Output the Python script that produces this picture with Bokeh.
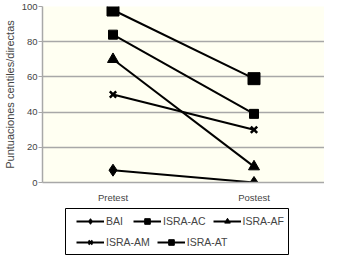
from bokeh.plotting import figure
from bokeh.layouts import column, row
from bokeh.models import FactorRange, Range1d, Legend, LegendItem, FixedTicker, Spacer
from bokeh.embed import file_html
from bokeh.resources import INLINE

categories = ["Pretest", "Postest"]
series_names = ["BAI", "ISRA-AC", "ISRA-AF", "ISRA-AM", "ISRA-AT"]
bai = [7, 0]
isra_ac = [84, 39]
isra_af = [70, 9]
isra_am = [50, 30]
isra_at = [98, 59]
y_ticks = [0, 20, 40, 60, 80, 100]

series = [bai, isra_ac, isra_af, isra_am, isra_at]
markers = ["diamond", "square", "triangle", "x", "square"]
sizes = [12, 9, 11, 9, 12]
legend_sizes = [10, 7, 9, 7, 8]

GRID = "#A8A8A8"
FONT = "Liberation Sans"

p = figure(width=324, height=206, output_backend="svg", toolbar_location=None,
           x_range=FactorRange(*categories, range_padding=0),
           y_range=Range1d(0, 100))
p.min_border_left = 0
p.min_border_right = 0
p.min_border_top = 6
p.min_border_bottom = 24
p.background_fill_color = "#FFFFF2"
p.border_fill_color = "white"
p.outline_line_color = None

p.xgrid.grid_line_color = None
p.ygrid.grid_line_color = GRID
p.ygrid.grid_line_width = 1.5

p.yaxis.ticker = FixedTicker(ticks=y_ticks)
p.yaxis.axis_line_color = GRID
p.yaxis.axis_line_width = 1.5
p.yaxis.major_tick_line_color = GRID
p.yaxis.major_tick_out = 4
p.yaxis.major_tick_in = 0
p.yaxis.minor_tick_line_color = None
p.yaxis.major_label_text_font = FONT
p.yaxis.major_label_text_font_size = "9.5px"
p.yaxis.major_label_standoff = 1
p.yaxis.axis_label = "Puntuaciones centiles/directas"
p.yaxis.axis_label_text_font = FONT
p.yaxis.axis_label_text_font_size = "11px"
p.yaxis.axis_label_text_font_style = "normal"
p.yaxis.axis_label_standoff = 3

p.xaxis.axis_line_color = GRID
p.xaxis.axis_line_width = 1.5
p.xaxis.major_tick_line_color = None
p.xaxis.major_tick_out = 0
p.xaxis.major_tick_in = 0
p.xaxis.minor_tick_line_color = None
p.xaxis.major_label_text_font = FONT
p.xaxis.major_label_text_font_size = "9.5px"
p.xaxis.major_label_standoff = 9

for vals, m, s in zip(series, markers, sizes):
    p.line(categories, vals, line_color="black", line_width=2)
    p.scatter(categories, vals, marker=m, size=s, fill_color="black",
              line_color="black", line_width=2.5 if m == "x" else 1)

# legend panel: same series drawn outside its visible range, only the legend shows
q = figure(width=224, height=47, output_backend="svg", toolbar_location=None,
           x_range=FactorRange(*categories, range_padding=0),
           y_range=Range1d(1000, 1001))
q.min_border_left = 0
q.min_border_right = 0
q.min_border_top = 0
q.min_border_bottom = 0
q.axis.visible = False
q.grid.grid_line_color = None
q.outline_line_color = "black"
q.outline_line_width = 1
q.background_fill_color = "white"
q.border_fill_color = "white"

items = []
for name, vals, m, s in zip(series_names, series, markers, legend_sizes):
    l = q.line(categories, vals, line_color="black", line_width=2)
    sc = q.scatter(categories, vals, marker=m, size=s, fill_color="black",
                   line_color="black", line_width=2 if m == "x" else 1)
    items.append(LegendItem(label=name, renderers=[l, sc]))

common = dict(orientation="horizontal", label_text_font=FONT,
              label_text_font_size="10.5px", glyph_width=28, glyph_height=14,
              label_standoff=2, spacing=7, padding=0, margin=0,
              border_line_color=None, background_fill_alpha=0, label_height=14)
row1 = Legend(items=items[:3], location=(11, 27), **common)
row2 = Legend(items=items[3:], location=(11, 6), **common)
q.add_layout(row1, "center")
q.add_layout(row2, "center")

layout = column(p, Spacer(height=2), row(Spacer(width=65), q), spacing=0)
open("out.html", "w").write(file_html(layout, INLINE))
